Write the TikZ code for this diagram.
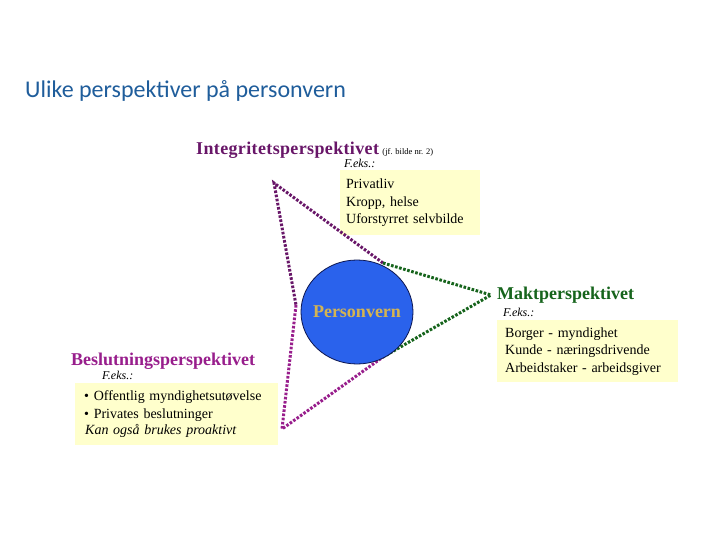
\documentclass[tikz,border=0pt]{standalone}
\usepackage{fontspec}
\setmainfont{Liberation Serif}
\newfontfamily\titlefont{Carlito}
\usepackage{xcolor}
\usepackage{tikz}
\usetikzlibrary{positioning,shapes.geometric}

\definecolor{titleblue}{RGB}{31,93,155}
\definecolor{integcol}{RGB}{104,22,104}
\definecolor{beslutcol}{RGB}{152,30,140}
\definecolor{maktcol}{RGB}{22,100,28}
\definecolor{boxyellow}{RGB}{255,255,204}
\definecolor{pvfill}{RGB}{42,98,236}
\definecolor{pvline}{RGB}{12,22,80}
\definecolor{pvtext}{RGB}{212,180,82}

\begin{document}
\begin{tikzpicture}[x=1pt,y=-1pt,
    dots/.style={line width=3pt, dash pattern=on 2.6pt off 1.6pt},
    heading/.style={anchor=base west, inner sep=0pt, font=\fontsize{18}{20}\selectfont\bfseries},
    feks/.style={anchor=base west, inner sep=0pt, font=\fontsize{12}{14}\selectfont\itshape},
    exbox/.style={anchor=north west, fill=boxyellow, align=left, inner ysep=0pt,
        font=\fontsize{14}{17.5}\selectfont}]
    \useasboundingbox (0,0) rectangle (720,540);

    % tittel
    \node[anchor=base west, inner sep=0pt, text=titleblue, font=\titlefont\fontsize{24}{27}\selectfont]
        (title) at (25,98) {Ulike perspektiver på personvern};

    % eksempelbokser
    \node[exbox, text width=128pt, inner xsep=6pt, minimum height=65pt] (iBox) at (340,170)
        {Privatliv\\Kropp, helse\\Uforstyrret selvbilde};
    \node[exbox, text width=165pt, inner xsep=8pt, minimum height=62pt] (mBox) at (497,320)
        {Borger - myndighet\\Kunde - næringsdrivende\\Arbeidstaker - arbeidsgiver};
    \node[exbox, text width=185pt, inner xsep=9pt, minimum height=62pt] (bBox) at (75,383)
        {\textbullet\ Offentlig myndighetsutøvelse\\\textbullet\ Privates beslutninger\\[-1pt]\hspace*{1pt}\textit{Kan også brukes proaktivt}};

    % overskrifter
    \node[heading, text=integcol, font=\fontsize{18}{20}\selectfont\bfseries\addfontfeatures{LetterSpace=2}]
        (iHead) at (196,155) {Integritetsperspektivet};
    \node[anchor=base west, inner sep=0pt, font=\fontsize{8.5}{10}\selectfont]
        (iRef) at ([xshift=3pt]iHead.base east) {(jf. bilde nr. 2)};
    \node[feks] (iFeks) at (344,168) {F.eks.:};
    \node[heading, text=maktcol] (mHead) at (497,299) {Maktperspektivet};
    \node[feks] (mFeks) at (503,316) {F.eks.:};
    \node[heading, text=beslutcol] (bHead) at (71,365) {Beslutningsperspektivet};
    \node[feks] (bFeks) at (102,379) {F.eks.:};

    % punkter for trekantene
    \coordinate (iTip) at (274,183);
    \coordinate (pvTop) at (383,263);
    \coordinate (pvLeft) at (296,305);
    \coordinate (bTip) at (282,429);
    \coordinate (pvBot) at (383,357);
    \coordinate (mTip) at (491,295);

    \draw[dots, integcol] (pvTop) -- (iTip) -- (pvLeft);
    \draw[dots, beslutcol] (pvLeft) -- (bTip) -- (pvBot);
    \draw[dots, maktcol] (pvTop) -- (mTip) -- (pvBot);

    % personvern
    \node[ellipse, draw=pvline, fill=pvfill, line width=0.8pt, minimum width=112pt, minimum height=104pt,
        inner sep=0pt] (pv) at (357,312) {};
    \node[text=pvtext, font=\fontsize{18}{20}\selectfont\bfseries, inner sep=0pt] (pvText) at (pv.center) {Personvern};
\end{tikzpicture}
\end{document}
